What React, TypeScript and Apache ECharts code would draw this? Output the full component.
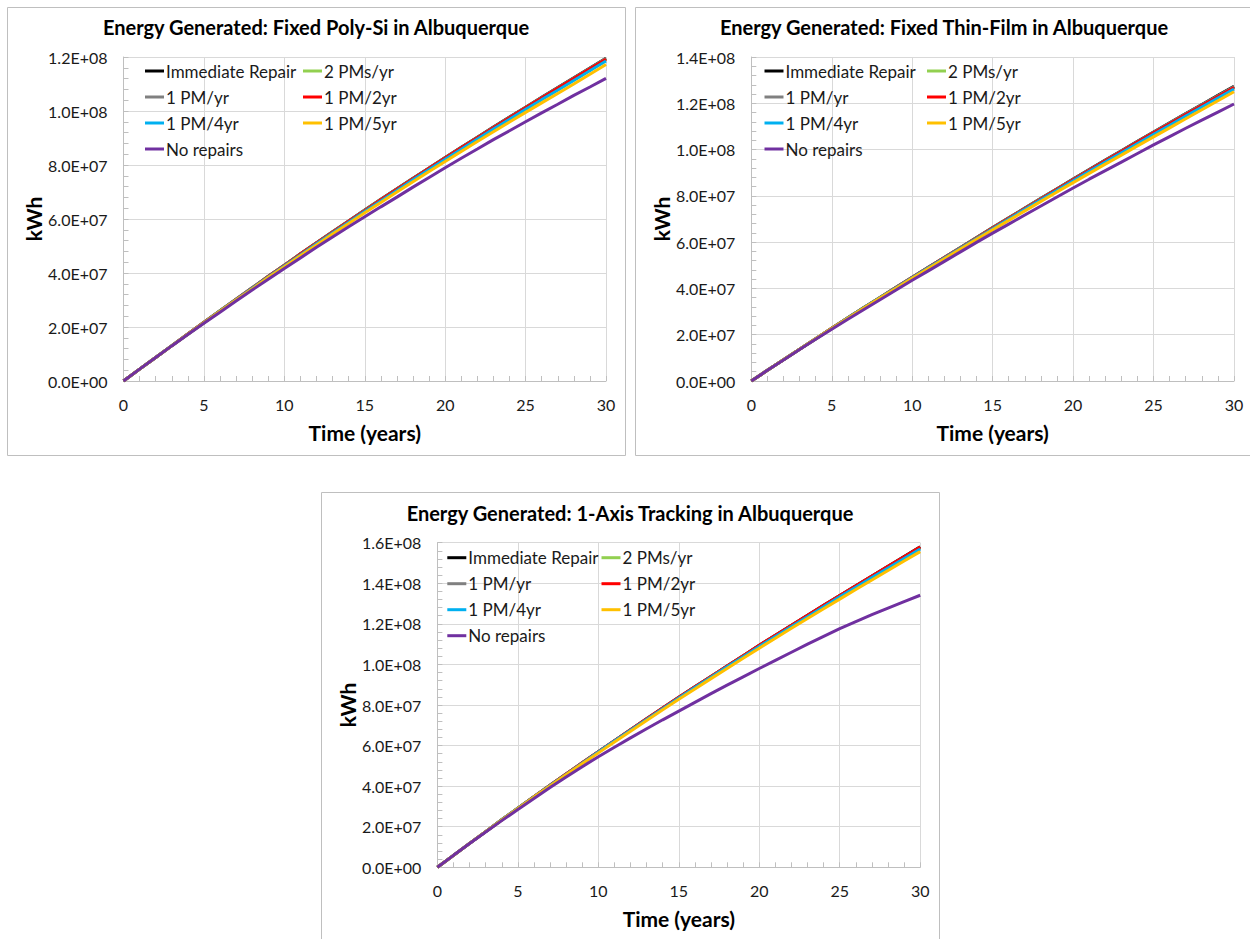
import React, { useEffect, useRef } from "react";
import * as echarts from "echarts";

// Cumulative energy, in GWh (1 GWh = 1e6 kWh), at the end of each year.
const GWH_TO_KWH = 1e6;

const YEARS = [
  0, 1, 2, 3, 4, 5, 6, 7, 8, 9, 10, 11, 12, 13, 14, 15, 16, 17, 18, 19, 20,
  21, 22, 23, 24, 25, 26, 27, 28, 29, 30,
];

const SERIES_NAMES = [
  "Immediate Repair",
  "2 PMs/yr",
  "1 PM/yr",
  "1 PM/2yr",
  "1 PM/4yr",
  "1 PM/5yr",
  "No repairs",
];

const SERIES_COLORS = [
  "#000000",
  "#92D050",
  "#808080",
  "#FF0000",
  "#00B0F0",
  "#FFC000",
  "#7030A0",
];

// Fixed Poly-Si
const POLY_IMMEDIATE = [0, 4.4, 8.7, 13.1, 17.4, 21.8, 26.0, 30.3, 34.5, 38.8, 42.9, 47.1, 51.2, 55.3, 59.3, 63.3, 67.3, 71.2, 75.1, 78.9, 82.8, 86.6, 90.3, 94.1, 97.8, 101.4, 105.1, 108.7, 112.3, 115.9, 119.5];
const POLY_2PM_YR = [0, 4.4, 8.7, 13.1, 17.4, 21.7, 26.0, 30.2, 34.5, 38.7, 42.9, 47.0, 51.1, 55.2, 59.2, 63.2, 67.2, 71.1, 75.0, 78.8, 82.7, 86.4, 90.2, 93.9, 97.6, 101.3, 104.9, 108.5, 112.1, 115.7, 119.3];
const POLY_1PM_YR = [0, 4.4, 8.7, 13.1, 17.4, 21.7, 26.0, 30.3, 34.5, 38.7, 42.9, 47.0, 51.1, 55.2, 59.3, 63.2, 67.2, 71.1, 75.0, 78.9, 82.7, 86.5, 90.2, 94.0, 97.7, 101.3, 105.0, 108.6, 112.2, 115.8, 119.4];
const POLY_1PM_2YR = [0, 4.4, 8.7, 13.0, 17.4, 21.7, 25.9, 30.2, 34.4, 38.7, 42.8, 47.0, 51.1, 55.1, 59.2, 63.1, 67.1, 71.0, 74.9, 78.8, 82.6, 86.4, 90.1, 93.8, 97.5, 101.2, 104.8, 108.4, 112.0, 115.6, 119.2];
const POLY_1PM_4YR = [0, 4.4, 8.7, 13.0, 17.3, 21.6, 25.9, 30.1, 34.3, 38.5, 42.6, 46.7, 50.8, 54.8, 58.8, 62.8, 66.7, 70.6, 74.5, 78.3, 82.1, 85.8, 89.6, 93.3, 96.9, 100.6, 104.2, 107.7, 111.3, 114.9, 118.5];
const POLY_1PM_5YR = [0, 4.4, 8.7, 13.0, 17.3, 21.6, 25.8, 30.0, 34.1, 38.3, 42.3, 46.4, 50.4, 54.4, 58.3, 62.3, 66.1, 70.0, 73.8, 77.6, 81.3, 85.0, 88.7, 92.3, 95.9, 99.5, 103.0, 106.5, 110.0, 113.6, 117.2];
const POLY_NO_REPAIRS = [0, 4.4, 8.7, 13.0, 17.2, 21.4, 25.5, 29.6, 33.7, 37.7, 41.7, 45.6, 49.5, 53.3, 57.1, 60.8, 64.5, 68.1, 71.8, 75.4, 79.0, 82.5, 85.9, 89.4, 92.7, 96.0, 99.3, 102.5, 105.8, 108.9, 112.1];

// Fixed Thin-Film
const THIN_IMMEDIATE = [0, 4.6, 9.2, 13.7, 18.3, 22.8, 27.3, 31.7, 36.1, 40.5, 44.8, 49.1, 53.4, 57.7, 62.0, 66.3, 70.5, 74.7, 78.9, 83.1, 87.3, 91.4, 95.5, 99.5, 103.6, 107.6, 111.6, 115.6, 119.5, 123.4, 127.3];
const THIN_2PM_YR = [0, 4.6, 9.2, 13.7, 18.3, 22.8, 27.3, 31.7, 36.1, 40.5, 44.7, 49.0, 53.3, 57.6, 61.9, 66.2, 70.4, 74.6, 78.8, 82.9, 87.1, 91.2, 95.3, 99.3, 103.4, 107.4, 111.4, 115.3, 119.2, 123.1, 127.0];
const THIN_1PM_YR = [0, 4.6, 9.2, 13.7, 18.3, 22.8, 27.3, 31.7, 36.1, 40.5, 44.8, 49.1, 53.4, 57.7, 61.9, 66.2, 70.4, 74.6, 78.8, 83.0, 87.2, 91.3, 95.4, 99.4, 103.5, 107.5, 111.5, 115.4, 119.3, 123.2, 127.1];
const THIN_1PM_2YR = [0, 4.6, 9.2, 13.7, 18.3, 22.8, 27.2, 31.6, 36.0, 40.4, 44.7, 49.0, 53.3, 57.5, 61.8, 66.1, 70.3, 74.5, 78.6, 82.8, 86.9, 91.0, 95.1, 99.1, 103.2, 107.2, 111.1, 115.1, 119.0, 122.9, 126.8];
const THIN_1PM_4YR = [0, 4.6, 9.2, 13.7, 18.2, 22.7, 27.2, 31.6, 36.0, 40.3, 44.6, 48.9, 53.1, 57.3, 61.6, 65.8, 70.0, 74.2, 78.3, 82.4, 86.5, 90.6, 94.6, 98.6, 102.6, 106.6, 110.5, 114.5, 118.4, 122.3, 126.2];
const THIN_1PM_5YR = [0, 4.6, 9.2, 13.7, 18.2, 22.7, 27.1, 31.5, 35.8, 40.1, 44.4, 48.6, 52.8, 57.0, 61.2, 65.3, 69.4, 73.5, 77.6, 81.7, 85.7, 89.7, 93.7, 97.6, 101.6, 105.5, 109.4, 113.3, 117.2, 121.1, 125.0];
const THIN_NO_REPAIRS = [0, 4.6, 9.1, 13.6, 18.0, 22.4, 26.7, 30.9, 35.1, 39.3, 43.5, 47.6, 51.7, 55.8, 59.9, 63.9, 67.8, 71.7, 75.6, 79.5, 83.4, 87.2, 90.9, 94.6, 98.3, 102.0, 105.6, 109.2, 112.7, 116.2, 119.7];

// 1-Axis Tracking
const TRACK_IMMEDIATE = [0, 5.9, 11.8, 17.6, 23.4, 29.1, 34.8, 40.4, 46.0, 51.5, 57.0, 62.4, 67.8, 73.2, 78.5, 83.8, 89.0, 94.1, 99.2, 104.3, 109.4, 114.4, 119.3, 124.2, 129.1, 134.0, 138.8, 143.6, 148.4, 153.2, 158.0];
const TRACK_2PM_YR = [0, 5.9, 11.8, 17.6, 23.4, 29.1, 34.8, 40.4, 45.9, 51.4, 56.9, 62.3, 67.7, 73.0, 78.3, 83.6, 88.8, 93.9, 99.0, 104.1, 109.1, 114.1, 119.0, 123.9, 128.7, 133.6, 138.4, 143.2, 148.0, 152.7, 157.4];
const TRACK_1PM_YR = [0, 5.9, 11.8, 17.6, 23.4, 29.1, 34.8, 40.4, 46.0, 51.5, 56.9, 62.3, 67.7, 73.1, 78.4, 83.7, 88.9, 94.0, 99.1, 104.2, 109.2, 114.2, 119.1, 124.0, 128.9, 133.8, 138.6, 143.4, 148.2, 152.9, 157.7];
const TRACK_1PM_2YR = [0, 5.9, 11.8, 17.6, 23.4, 29.1, 34.8, 40.4, 46.0, 51.5, 57.0, 62.4, 67.8, 73.2, 78.5, 83.8, 89.0, 94.1, 99.2, 104.3, 109.4, 114.4, 119.3, 124.2, 129.1, 134.0, 138.8, 143.6, 148.4, 153.1, 157.9];
const TRACK_1PM_4YR = [0, 5.9, 11.8, 17.6, 23.4, 29.1, 34.7, 40.3, 45.8, 51.3, 56.8, 62.2, 67.6, 72.9, 78.2, 83.4, 88.6, 93.7, 98.8, 103.8, 108.8, 113.8, 118.7, 123.5, 128.4, 133.3, 138.0, 142.8, 147.5, 152.2, 156.9];
const TRACK_1PM_5YR = [0, 5.9, 11.8, 17.6, 23.3, 29.0, 34.6, 40.1, 45.6, 51.0, 56.4, 61.8, 67.1, 72.4, 77.6, 82.8, 87.9, 93.0, 98.0, 103.0, 108.0, 112.9, 117.8, 122.6, 127.4, 132.2, 136.9, 141.6, 146.3, 151.0, 155.6];
const TRACK_NO_REPAIRS = [0, 5.9, 11.7, 17.4, 23.0, 28.5, 33.9, 39.3, 44.5, 49.6, 54.5, 59.2, 63.8, 68.3, 72.7, 77.0, 81.3, 85.6, 89.8, 93.9, 98.0, 102.0, 106.0, 110.0, 113.8, 117.6, 121.1, 124.5, 127.8, 131.0, 134.1];

const CHART_TITLES = [
  "Energy Generated: Fixed Poly-Si in Albuquerque",
  "Energy Generated: Fixed Thin-Film in Albuquerque",
  "Energy Generated: 1-Axis Tracking in Albuquerque",
];

const Y_MAX_KWH = [1.2e8, 1.4e8, 1.6e8];
const Y_INTERVAL_KWH = 2e7;
const X_MIN = 0;
const X_MAX = 30;
const X_INTERVAL = 5;

const CHART_SERIES = [
  [POLY_IMMEDIATE, POLY_2PM_YR, POLY_1PM_YR, POLY_1PM_2YR, POLY_1PM_4YR, POLY_1PM_5YR, POLY_NO_REPAIRS],
  [THIN_IMMEDIATE, THIN_2PM_YR, THIN_1PM_YR, THIN_1PM_2YR, THIN_1PM_4YR, THIN_1PM_5YR, THIN_NO_REPAIRS],
  [TRACK_IMMEDIATE, TRACK_2PM_YR, TRACK_1PM_YR, TRACK_1PM_2YR, TRACK_1PM_4YR, TRACK_1PM_5YR, TRACK_NO_REPAIRS],
];

// Layout of the three panels on the page
const PANELS = [
  { box: [7.5, 7.5, 618, 448], grid: [123.5, 57, 482.5, 324], titleX: 316, titleY: 27, legendX: [145, 303], legendY: 62.5 },
  { box: [635.5, 7.5, 640, 448], grid: [751.3, 57, 482.7, 324], titleX: 944, titleY: 27, legendX: [764.5, 927], legendY: 62.5 },
  { box: [321.5, 492.5, 618, 470], grid: [437.4, 542.7, 482.8, 324.6], titleX: 630, titleY: 513, legendX: [447.3, 601.5], legendY: 549.2 },
];

const FONT = "Lato, 'Open Sans', 'DejaVu Sans', sans-serif";
const LEFT_COLUMN = [0, 2, 4, 6];
const RIGHT_COLUMN = [1, 3, 5];

function sciLabel(v: number): string {
  if (v === 0) return "0.0E+00";
  const e = Math.floor(Math.log10(v) + 1e-9);
  const m = v / Math.pow(10, e);
  return m.toFixed(1) + "E+" + String(e).padStart(2, "0");
}

function buildOption() {
  const grids: any[] = [];
  const xAxes: any[] = [];
  const yAxes: any[] = [];
  const series: any[] = [];
  const legends: any[] = [];
  const graphics: any[] = [];

  PANELS.forEach((p, i) => {
    const [gx, gy, gw, gh] = p.grid;
    grids.push({ left: gx, top: gy, width: gw, height: gh, outerBoundsMode: "none" });

    const tickLine = { lineStyle: { color: "#bfbfbf", width: 1 } };
    xAxes.push({
      type: "value",
      gridIndex: i,
      min: X_MIN,
      max: X_MAX,
      interval: X_INTERVAL,
      name: "Time (years)",
      nameLocation: "middle",
      nameGap: 41,
      nameTextStyle: { fontFamily: FONT, fontSize: 21, fontWeight: "bold", color: "#000" },
      axisLine: { show: true, lineStyle: { color: "#bfbfbf", width: 1 } },
      axisTick: { show: true, inside: true, length: 5, ...tickLine },
      minorTick: { show: true, splitNumber: 5, length: 5, ...tickLine },
      splitLine: { show: true, lineStyle: { color: "#d9d9d9", width: 1 } },
      axisLabel: { fontFamily: FONT, fontSize: 16, color: "#1a1a1a", margin: 15 },
    });
    yAxes.push({
      type: "value",
      gridIndex: i,
      min: 0,
      max: Y_MAX_KWH[i],
      interval: Y_INTERVAL_KWH,
      name: "kWh",
      nameLocation: "middle",
      nameGap: 78,
      nameTextStyle: { fontFamily: FONT, fontSize: 21, fontWeight: "bold", color: "#000" },
      axisLine: { show: true, lineStyle: { color: "#bfbfbf", width: 1 } },
      axisTick: { show: true, inside: true, length: 5, ...tickLine },
      minorTick: { show: true, splitNumber: 5, length: 5, ...tickLine },
      splitLine: { show: true, lineStyle: { color: "#d9d9d9", width: 1 } },
      axisLabel: { fontFamily: FONT, fontSize: 16, color: "#1a1a1a", margin: 16, formatter: sciLabel },
    });

    CHART_SERIES[i].forEach((values, k) => {
      series.push({
        type: "line",
        name: SERIES_NAMES[k],
        xAxisIndex: i,
        yAxisIndex: i,
        showSymbol: false,
        symbol: "none",
        data: values.map((v, j) => [YEARS[j], v * GWH_TO_KWH]),
        itemStyle: { color: SERIES_COLORS[k] },
        lineStyle: { color: SERIES_COLORS[k], width: 3 },
        z: 2 + k * 0.01,
      });
    });

    [LEFT_COLUMN, RIGHT_COLUMN].forEach((col, c) => {
      legends.push({
        orient: "vertical",
        left: p.legendX[c],
        top: p.legendY,
        padding: 0,
        itemGap: 9,
        itemWidth: 19,
        itemHeight: 3,
        icon: "rect",
        selectedMode: false,
        data: col.map((k) => SERIES_NAMES[k]),
        textStyle: { fontFamily: FONT, fontSize: 17, lineHeight: 17, color: "#1a1a1a", padding: [0, 0, 0, -3] },
      });
    });

    const [bx, by, bw, bh] = p.box;
    graphics.push({
      type: "rect",
      shape: { x: bx, y: by, width: bw, height: bh },
      style: { fill: "none", stroke: "#bfbfbf", lineWidth: 1 },
      silent: true,
      z: -10,
    });
    graphics.push({
      type: "text",
      x: p.titleX,
      y: p.titleY,
      style: {
        text: CHART_TITLES[i],
        fontFamily: FONT,
        fontSize: 20,
        fontWeight: "bold",
        fill: "#000",
        align: "center",
        verticalAlign: "middle",
      },
      silent: true,
    });
  });

  return {
    animation: false,
    backgroundColor: "#ffffff",
    grid: grids,
    xAxis: xAxes,
    yAxis: yAxes,
    legend: legends,
    series,
    graphic: graphics,
  };
}

export default function App() {
  const ref = useRef<HTMLDivElement>(null);

  useEffect(() => {
    if (!ref.current) return;
    const chart = echarts.init(ref.current, undefined, { renderer: "svg" });
    chart.setOption(buildOption());
    return () => chart.dispose();
  }, []);

  return (
    <div
      ref={ref}
      style={{ position: "absolute", left: 0, top: 0, width: 1250, height: 939, background: "#fff" }}
    />
  );
}
